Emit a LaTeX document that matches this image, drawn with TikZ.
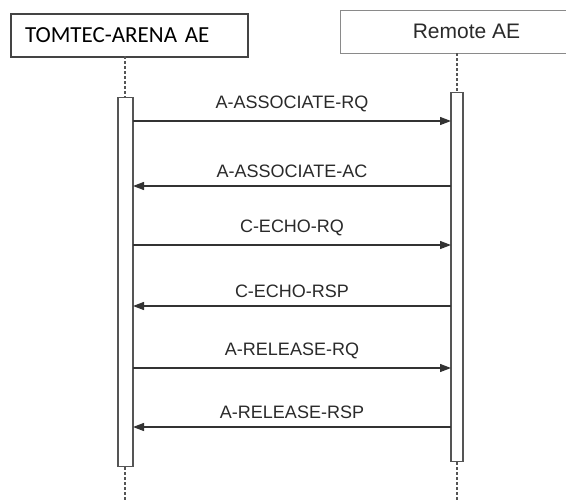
\documentclass[tikz,border=0pt]{standalone}
\usepackage{fontspec}
\setmainfont{Liberation Sans}
\newfontfamily\calfont{Carlito}
\usetikzlibrary{arrows.meta}
\definecolor{boxdark}{HTML}{444444}
\definecolor{boxlight}{HTML}{8A8A8A}
\definecolor{linedark}{HTML}{333333}
\definecolor{bargray}{HTML}{555555}
\definecolor{textgray}{HTML}{2A2A2A}
\tikzset{
  actorA/.style={draw=boxdark, line width=1.4pt, rectangle, minimum height=43pt, inner xsep=14pt, text width=209pt, align=left, font=\calfont\fontsize{23}{26}\selectfont, text=black},
  actorB/.style={draw=boxlight, line width=1pt, rectangle, minimum height=43pt, minimum width=240pt, font=\fontsize{21}{24}\selectfont, text=textgray},
  bar/.style={draw=bargray, line width=1.1pt, fill=white, rectangle, inner sep=0pt},
  life/.style={draw=bargray, line width=1.3pt, dash pattern=on 3pt off 2pt},
  msg/.style={draw=linedark, line width=1.3pt, -{Triangle[length=11pt,width=8pt]}},
  lbl/.style={font=\fontsize{18}{20}\selectfont, text=textgray, inner sep=0pt}
}
\begin{document}
\begin{tikzpicture}[x=1pt,y=-1pt]
\clip (0,0) rectangle (566,501);
\fill[white] (0,0) rectangle (566,501);
% actors
\node[actorA] (tomtec) at (129.5,35.5) {TOMTEC-ARENA AE};
\node[actorB, anchor=west] (remote) at (340,31.5) {\hspace*{12pt}Remote AE};
% lifeline coordinates
\coordinate (lt) at (125,56);
\coordinate (lb) at (125,501);
\coordinate (rt) at (457,53);
\coordinate (rb) at (457,501);
% activation bars
\node[bar, minimum width=15pt, minimum height=369pt, anchor=north] (lbar) at (125.5,97) {};
\node[bar, minimum width=12pt, minimum height=369pt, anchor=north] (rbar) at (457,92) {};
\draw[life] (lt) -- (lbar.north -| lt);
\draw[life] (lbar.south -| lb) -- (lb);
\draw[life] (rt) -- (rbar.north -| rt);
\draw[life] (rbar.south -| rb) -- (rb);
% message coordinates
\foreach \n/\y in {1/121,2/186,3/245,4/306,5/368,6/427}{
  \coordinate (L\n) at (133,\y);
  \coordinate (R\n) at (451,\y);
}
\draw[msg] (L1) -- node[lbl, above=8pt] (m1) {A-ASSOCIATE-RQ} (R1);
\draw[msg] (R2) -- node[lbl, above=8pt] (m2) {A-ASSOCIATE-AC} (L2);
\draw[msg] (L3) -- node[lbl, above=8pt] (m3) {C-ECHO-RQ} (R3);
\draw[msg] (R4) -- node[lbl, above=8pt] (m4) {C-ECHO-RSP} (L4);
\draw[msg] (L5) -- node[lbl, above=8pt] (m5) {A-RELEASE-RQ} (R5);
\draw[msg] (R6) -- node[lbl, above=8pt] (m6) {A-RELEASE-RSP} (L6);
\end{tikzpicture}
\end{document}
